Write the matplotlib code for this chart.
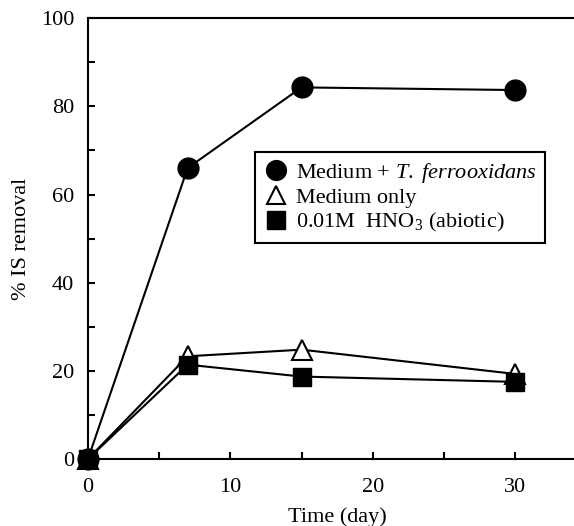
import numpy as np
import matplotlib
matplotlib.use("Agg")
import matplotlib.pyplot as plt
from matplotlib.ticker import MultipleLocator

plt.rcParams['font.family'] = ['Liberation Serif', 'DejaVu Serif']
plt.rcParams['mathtext.fontset'] = 'custom'
plt.rcParams['mathtext.rm'] = 'Liberation Serif'
plt.rcParams['mathtext.it'] = 'Liberation Serif:italic'

days = [0, 7, 15, 30]
bio = [0, 66, 84.3, 83.7]
medium = [0, 23.3, 24.8, 19.3]
hno3 = [0, 21.4, 18.7, 17.5]

fig = plt.figure(figsize=(5.74, 5.26), dpi=100)
ax = fig.add_axes([0.1533, 0.1274, 0.868, 0.838])

l2, = ax.plot(days, medium, '-^', color='black', mfc='white', mec='black', mew=1.5,
              ms=14, lw=1.5, clip_on=False, zorder=3)
l1, = ax.plot(days, bio, '-o', color='black', ms=15, lw=1.5, clip_on=False, zorder=4)
l3, = ax.plot(days, hno3, '-s', color='black', ms=13, lw=1.5, clip_on=False, zorder=5)

ax.set_xlim(0, 35)
ax.set_ylim(0, 100)
ax.yaxis.set_major_locator(MultipleLocator(20))
ax.yaxis.set_minor_locator(MultipleLocator(10))
ax.xaxis.set_minor_locator(MultipleLocator(5))
ax.set_xticks([0, 10, 20, 30])
ax.tick_params(which='both', direction='in', length=5, width=1.5, labelsize=16)
ax.tick_params(axis='y', pad=10)
ax.tick_params(axis='x', pad=14)
for s in ax.spines.values():
    s.set_linewidth(1.5)

ax.set_xlabel('Time (day)', fontsize=16, labelpad=7)
ax.set_ylabel('% IS removal', fontsize=16, labelpad=7)

leg = fig.legend([l1, l2, l3],
                 ['Medium + $\\mathit{T.\\ ferrooxidans}$', 'Medium only',
                  '0.01M  HNO$_3$ (abiotic)'],
                 loc='upper left', bbox_to_anchor=(0.444, 0.711), borderaxespad=0,
                 fontsize=16, frameon=True, fancybox=False, edgecolor='black',
                 framealpha=1, handlelength=1.1, handletextpad=0.35,
                 labelspacing=0.12, borderpad=0.4, markerscale=0.95)
leg.get_frame().set_linewidth(1.5)
for h in leg.legend_handles:
    h.set_linestyle('')

fig.savefig('out.png', dpi=100)
